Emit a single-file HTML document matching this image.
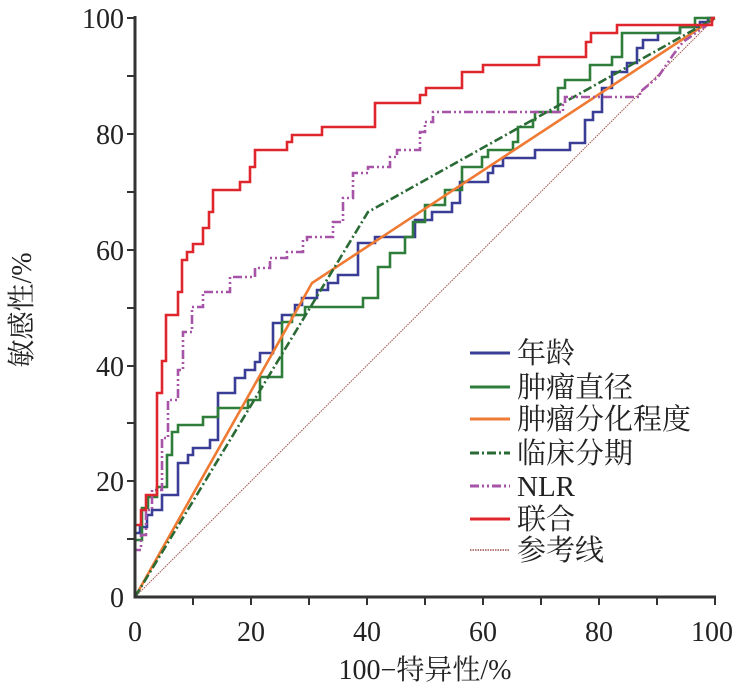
<!DOCTYPE html>
<html><head><meta charset="utf-8"><style>
body{margin:0;background:#fff;}
svg{display:block;}
text{font-family:"Liberation Serif","Noto Serif CJK SC",serif;fill:#222;}
</style></head><body>
<svg width="740" height="695" viewBox="0 0 740 695">
<g fill="none" stroke-linejoin="miter">
<line x1="135" y1="597" x2="715" y2="18" stroke="#a0524d" stroke-width="1" stroke-dasharray="1.5,1"/>
<polyline stroke="#3a3d96" stroke-width="2.6" points="135,597 135,533 140,533 140,527 147,527 147,515 152,515 152,510 162,510 162,495 178,495 178,463 188,463 188,455 193,455 193,448 210,448 210,440 218,440 218,393 235,393 235,378 245,378 245,370 255,370 255,362 260,362 260,353 273,353 273,323 282,323 282,315 295,315 295,305 302,305 302,298 317,298 317,290 328,290 328,283 338,283 338,275 358,275 358,243 375,243 375,237 415,237 415,220 432,220 432,212 452,212 452,203 460,203 460,182 488,182 488,173 493,173 493,166 503,166 503,158 535,158 535,150 570,150 570,143 585,143 585,120 593,120 593,112 602,112 602,88 612,88 612,72 627,72 627,63 637,63 637,48 643,48 643,40 658,40 658,33 680,33 680,27 700,27 700,22 708,22 708,18 715,18"/>
<polyline stroke="#2e7d3a" stroke-width="2.6" points="135,597 135,540 142,540 142,508 148,508 148,497 157,497 157,487 167,487 167,455 172,455 172,432 178,432 178,425 203,425 203,417 218,417 218,408 248,408 248,400 260,400 260,377 282,377 282,322 292,322 292,315 305,315 305,307 363,307 363,298 378,298 378,267 390,267 390,253 405,253 405,237 413,237 413,222 425,222 425,213 425,205 445,205 445,190 462,190 462,167 482,167 482,157 488,157 488,150 513,150 513,142 518,142 518,127 533,127 533,120 535,120 535,112 558,112 558,88 565,88 565,80 590,80 590,65 612,65 612,57 622,57 622,33 680,33 680,27 695,27 695,18 715,18"/>
<polyline stroke="#ef7a33" stroke-width="2.6" points="135,597 312,283 715,18"/>
<polyline stroke="#2a6a35" stroke-width="2.6" stroke-dasharray="9,3,2,3" points="135,597 368,212 715,18"/>
<polyline stroke="#a653a8" stroke-width="2.6" stroke-dasharray="9,3,2,3,2,3" points="135,597 135,550 141,550 141,535 146,535 146,510 152,510 152,490 162,490 162,438 168,438 168,400 178,400 178,370 183,370 183,332 192,332 192,307 203,307 203,292 230,292 230,277 255,277 255,268 270,268 270,258 287,258 287,252 303,252 303,240 307,240 307,237 333,237 333,222 343,222 343,198 353,198 353,173 368,173 368,167 390,167 390,157 397,157 397,150 420,150 420,132 425,132 425,122 433,122 433,112 563,112 563,105 565,105 565,97 640,97 640,92 658,77 673,55 683,42 707,25 713,20 715,18"/>
<polyline stroke="#e0262d" stroke-width="2.6" points="135,597 135,525 141,525 141,510 146,510 146,495 157,495 157,393 162,393 162,361 166,361 166,315 178,315 178,292 182,292 182,260 187,260 187,252 193,252 193,244 203,244 203,228 209,228 209,212 213,212 213,190 240,190 240,182 250,182 250,167 255,167 255,150 287,150 287,142 292,142 292,135 322,135 322,127 375,127 375,103 420,103 420,95 426,95 426,88 462,88 462,72 483,72 483,65 539,65 539,57 586,57 586,42 591,42 591,33 617,33 617,25 712,25 712,18 715,18"/>
</g>
<g stroke="#333" stroke-width="3">
<line x1="135" y1="16" x2="135" y2="598.5"/>
<line x1="133.5" y1="597" x2="716" y2="597"/>
</g>
<g stroke="#333" stroke-width="2">
<line x1="127" y1="18" x2="135" y2="18"/><line x1="127" y1="76" x2="135" y2="76"/><line x1="127" y1="134" x2="135" y2="134"/><line x1="127" y1="192" x2="135" y2="192"/><line x1="127" y1="250" x2="135" y2="250"/><line x1="127" y1="308" x2="135" y2="308"/><line x1="127" y1="366" x2="135" y2="366"/><line x1="127" y1="423" x2="135" y2="423"/><line x1="127" y1="481" x2="135" y2="481"/><line x1="127" y1="539" x2="135" y2="539"/>
<line x1="193" y1="597" x2="193" y2="605"/><line x1="251" y1="597" x2="251" y2="605"/><line x1="309" y1="597" x2="309" y2="605"/><line x1="367" y1="597" x2="367" y2="605"/><line x1="425" y1="597" x2="425" y2="605"/><line x1="483" y1="597" x2="483" y2="605"/><line x1="541" y1="597" x2="541" y2="605"/><line x1="599" y1="597" x2="599" y2="605"/><line x1="657" y1="597" x2="657" y2="605"/><line x1="715" y1="597" x2="715" y2="605"/>
</g>
<g font-size="28" text-anchor="end">
<text x="124" y="28">100</text><text x="124" y="144">80</text><text x="124" y="260">60</text><text x="124" y="376">40</text><text x="124" y="491">20</text><text x="124" y="607">0</text>
</g>
<g font-size="28" text-anchor="middle">
<text x="135" y="641">0</text><text x="251" y="641">20</text><text x="367" y="641">40</text><text x="483" y="641">60</text><text x="599" y="641">80</text><text x="712" y="641">100</text>
<text x="425" y="679">100−特异性/%</text>
<text transform="translate(31,310) rotate(-90)">敏感性/%</text>
</g>
<g stroke-width="3">
<line x1="470" y1="353" x2="510" y2="353" stroke="#3a3d96"/>
<line x1="470" y1="387" x2="510" y2="387" stroke="#2e7d3a"/>
<line x1="470" y1="419" x2="510" y2="419" stroke="#ef7a33"/>
<line x1="470" y1="453" x2="510" y2="453" stroke="#2a6a35" stroke-dasharray="9,3,2,3"/>
<line x1="470" y1="486" x2="510" y2="486" stroke="#a653a8" stroke-dasharray="9,3,2,3,2,3"/>
<line x1="470" y1="519" x2="510" y2="519" stroke="#e0262d"/>
<line x1="470" y1="550" x2="510" y2="550" stroke="#a0524d" stroke-width="1.5" stroke-dasharray="1.5,1"/>
</g>
<g font-size="29">
<text x="517" y="363">年龄</text>
<text x="517" y="397">肿瘤直径</text>
<text x="517" y="429">肿瘤分化程度</text>
<text x="517" y="463">临床分期</text>
<text x="517" y="496">NLR</text>
<text x="517" y="529">联合</text>
<text x="517" y="560">参考线</text>
</g>
</svg>
</body></html>
